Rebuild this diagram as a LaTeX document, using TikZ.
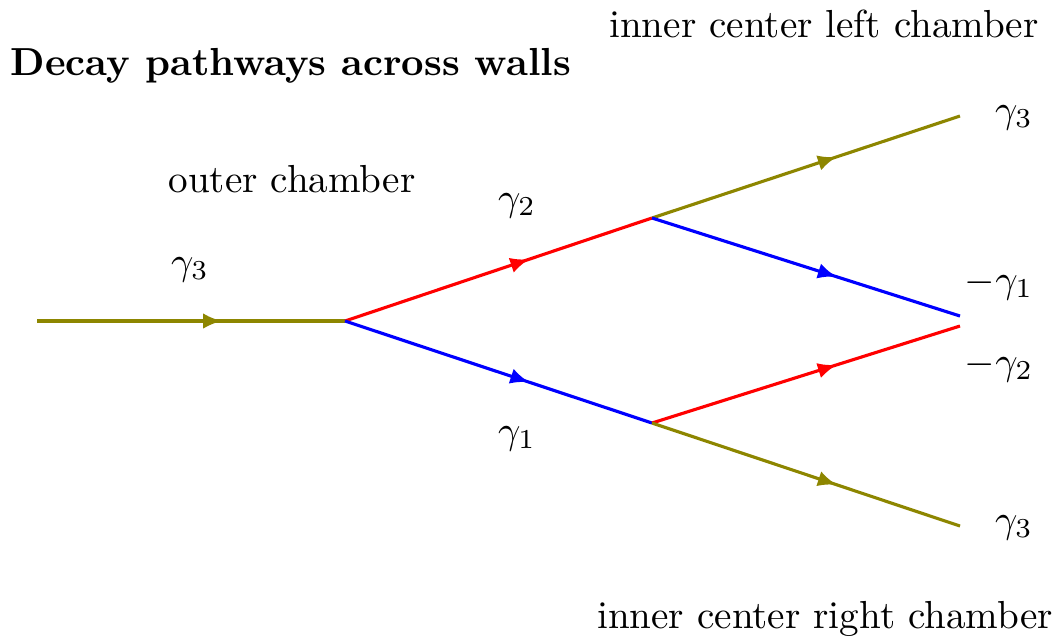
\documentclass[tikz,border=0pt]{standalone}
\usetikzlibrary{arrows.meta,decorations.markings}
\begin{document}
\begin{tikzpicture}[x=0.2557pt,y=-0.2557pt,
  prop/.style={line width=0.8pt,postaction={decorate},
    decoration={markings,mark=at position 0.6 with {\arrow{Latex[length=4.8pt,width=4pt]}}}},
  lbl/.style={inner sep=0pt,anchor=base}]
\useasboundingbox (0,0) rectangle (1058,639);
\coordinate (in) at (37,321);
\coordinate (v1) at (345,321);
\coordinate (vu) at (652,218);
\coordinate (vd) at (652,423);
\coordinate (eu3) at (960,116);
\coordinate (eu1) at (960,316);
\coordinate (ed2) at (960,326);
\coordinate (ed3) at (960,526);
\draw[prop,olive] (in) -- (v1);
\draw[prop,red] (v1) -- (vu);
\draw[prop,blue] (v1) -- (vd);
\draw[prop,olive] (vu) -- (eu3);
\draw[prop,blue] (vu) -- (eu1);
\draw[prop,red] (vd) -- (ed2);
\draw[prop,olive] (vd) -- (ed3);
\node[lbl,anchor=base west] (title) at (10,75) {\bfseries Decay pathways across walls};
\node[lbl] (outer) at (292,192) {outer chamber};
\node[lbl] (g3in) at (190,274) {$\gamma_3$};
\node[lbl] (g2) at (517,210) {$\gamma_2$};
\node[lbl] (g1) at (517,443) {$\gamma_1$};
\node[lbl] (left) at (824,37) {inner center left chamber};
\node[lbl] (right) at (825,628) {inner center right chamber};
\node[lbl] (g3u) at (1014,122) {$\gamma_3$};
\node[lbl] (mg1) at (999,292) {$-\gamma_1$};
\node[lbl] (mg2) at (999,374) {$-\gamma_2$};
\node[lbl] (g3d) at (1014,532) {$\gamma_3$};
\end{tikzpicture}
\end{document}
